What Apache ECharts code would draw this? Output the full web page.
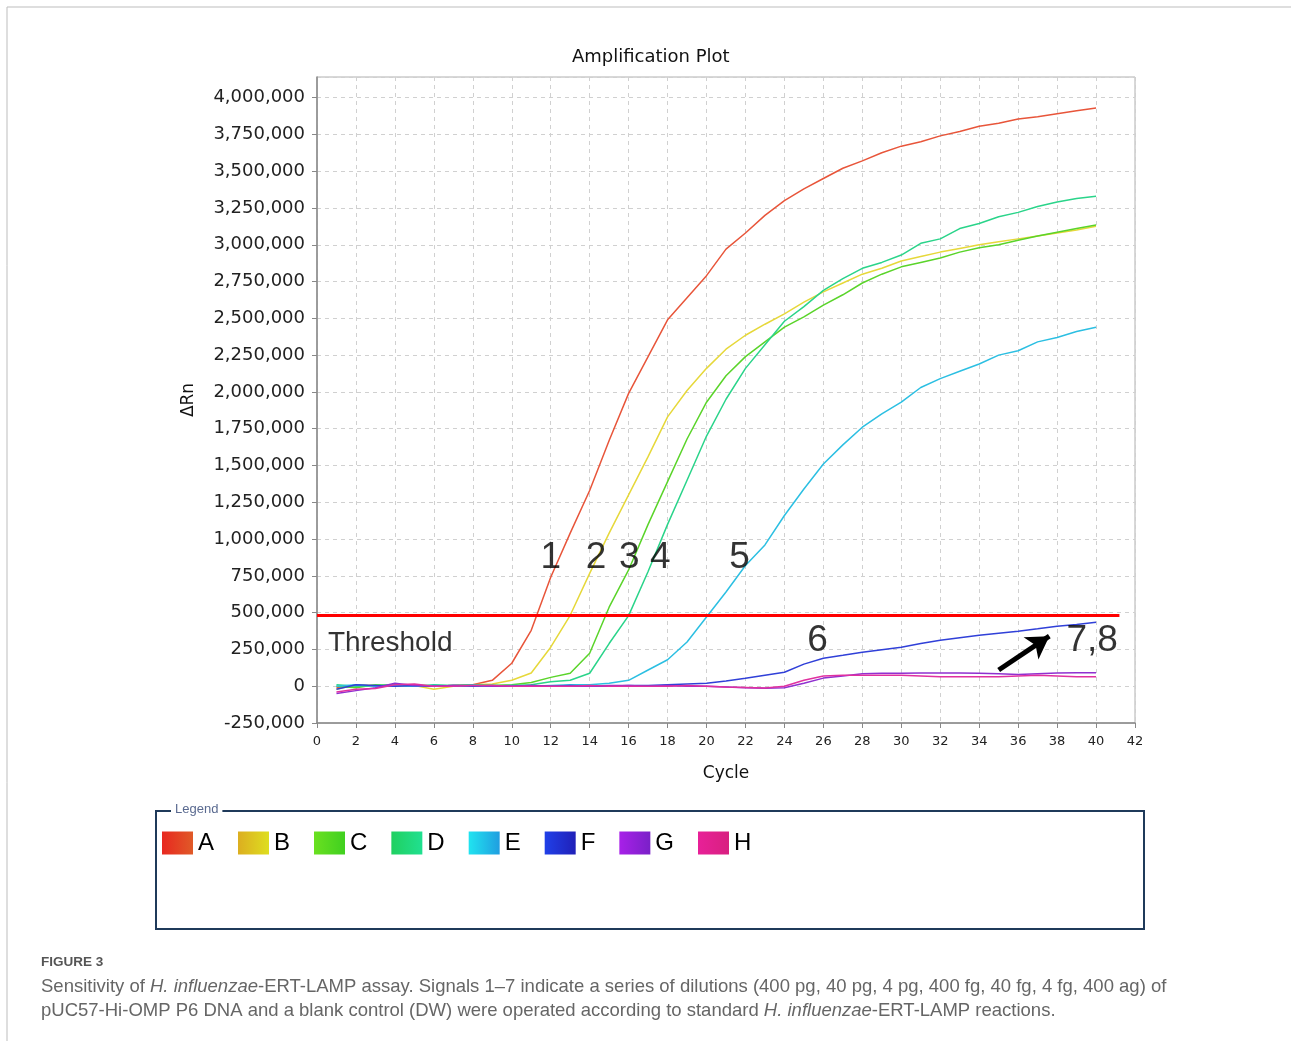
<!DOCTYPE html>
<html>
<head>
<meta charset="utf-8">
<script src="https://cdn.jsdelivr.net/npm/echarts@6/dist/echarts.min.js"></script>
<style>
html,body{margin:0;padding:0;background:#fff;}
#chart{width:1291px;height:1041px;}
</style>
</head>
<body>
<div id="chart"></div>
<script>
const cycles = [1,2,3,4,5,6,7,8,9,10,11,12,13,14,15,16,17,18,19,20,21,22,23,24,25,26,27,28,29,30,31,32,33,34,35,36,37,38,39,40];
const seriesNames = ['A','B','C','D','E','F','G','H'];
const valuesA = [-10000,5000,0,10000,5000,0,5000,10000,40000,156000,380000,740000,1040000,1330000,1670000,1990000,2240000,2490000,2640000,2790000,2970000,3080000,3200000,3300000,3380000,3450000,3520000,3570000,3625000,3670000,3700000,3740000,3770000,3805000,3825000,3855000,3870000,3890000,3910000,3930000];
const valuesB = [-20000,10000,5000,0,5000,-20000,0,10000,15000,40000,90000,265000,482000,767000,1040000,1300000,1560000,1830000,2010000,2160000,2290000,2385000,2460000,2530000,2610000,2680000,2740000,2800000,2840000,2890000,2920000,2950000,2975000,3000000,3020000,3040000,3060000,3080000,3100000,3125000];
const valuesC = [0,-10000,10000,5000,10000,0,5000,5000,5000,10000,25000,60000,88000,224000,537000,790000,1100000,1390000,1680000,1930000,2110000,2240000,2340000,2440000,2510000,2590000,2660000,2740000,2800000,2850000,2880000,2910000,2950000,2980000,3000000,3030000,3060000,3085000,3110000,3135000];
const valuesD = [10000,0,5000,10000,0,10000,5000,10000,5000,5000,10000,30000,40000,88000,290000,480000,780000,1100000,1400000,1700000,1950000,2160000,2320000,2480000,2580000,2690000,2770000,2840000,2880000,2930000,3010000,3040000,3110000,3145000,3190000,3220000,3260000,3290000,3315000,3330000];
const valuesE = [0,10000,0,5000,0,5000,0,5000,0,5000,0,5000,10000,10000,20000,40000,110000,180000,300000,470000,640000,820000,960000,1160000,1340000,1510000,1640000,1760000,1850000,1930000,2030000,2090000,2140000,2190000,2250000,2280000,2340000,2370000,2410000,2440000];
const valuesF = [-20000,10000,5000,0,5000,0,5000,0,5000,0,5000,0,5000,0,0,5000,5000,10000,15000,20000,35000,54000,75000,95000,150000,190000,210000,231000,248000,265000,290000,312000,330000,346000,360000,374000,390000,408000,420000,435000];
const valuesG = [-50000,-30000,-10000,20000,5000,0,5000,5000,0,0,5000,0,0,0,5000,5000,0,5000,0,0,-5000,-10000,-14000,-10000,20000,55000,70000,85000,88000,88000,90000,90000,90000,88000,85000,80000,85000,90000,92000,92000];
const valuesH = [-40000,-20000,-15000,10000,15000,0,0,5000,5000,0,0,0,0,5000,0,0,0,0,5000,0,-5000,-8000,-12000,0,40000,70000,75000,75000,75000,75000,70000,65000,65000,65000,65000,70000,75000,70000,65000,65000];
const xTicks = [0,2,4,6,8,10,12,14,16,18,20,22,24,26,28,30,32,34,36,38,40,42];
const yTicks = [-250000,0,250000,500000,750000,1000000,1250000,1500000,1750000,2000000,2250000,2500000,2750000,3000000,3250000,3500000,3750000,4000000];
const thresholdValue = 480000;
const thresholdEnd = 41.2;
const curveLabels = ['1','2','3','4','5','6','7,8'];
const curveLabelCycles = [12.0,14.33,16.03,17.63,21.7,25.7,39.8];
const curveLabelValues = [870000,870000,870000,870000,870000,312000,312000];
const arrowFrom = [35.0,110000];
const arrowTo = [37.6,340000];

const allValues = [valuesA,valuesB,valuesC,valuesD,valuesE,valuesF,valuesG,valuesH];
const lineColors = ['#e8553a','#e6d83a','#5ad42a','#2ad48a','#2cbfe2','#3040d8','#9030d0','#e030a0'];
const swatch = [
  ['#e82820','#e05a28'],['#dcae20','#dede20'],['#6ae020','#40d020'],['#20d060','#20e090'],
  ['#20e4f0','#209ee0'],['#2040e8','#2020b8'],['#a820e8','#7a20c8'],['#e82098','#d82080']
];

function fmt(v){ return v.toLocaleString('en-US'); }

const series = seriesNames.map((n,i)=>({
  name:n, type:'line', showSymbol:false, symbol:'none', smooth:false,
  data: cycles.map((c,k)=>[c, allValues[i][k]]),
  lineStyle:{color:lineColors[i], width:1.5},
  itemStyle:{color:lineColors[i]},
  z: 3
}));

series.push({
  name:'threshold', type:'line', symbol:'none', silent:true,
  data:[[xTicks[0],thresholdValue],[thresholdEnd,thresholdValue]],
  lineStyle:{color:'#ff0000', width:3}, z:4
});

series.push({
  name:'labels', type:'scatter', symbolSize:0, silent:true,
  data: curveLabels.map((t,i)=>({value:[curveLabelCycles[i],curveLabelValues[i]], name:t})),
  label:{show:true, position:'inside', formatter:p=>p.name, color:'#000', fontSize:37, fontFamily:'Liberation Sans, Arial, sans-serif'},
  z:6
});

series.push({
  name:'thresholdLabel', type:'scatter', symbolSize:0, silent:true,
  data:[{value:[3.76,292000], name:'Threshold'}],
  label:{show:true, position:'inside', formatter:p=>p.name, color:'#000', fontSize:28, fontFamily:'Liberation Sans, Arial, sans-serif'},
  z:6
});

series.push({
  name:'arrow', type:'line', symbol:'none', silent:true, data:[],
  markLine:{
    silent:true, symbol:['none','arrow'], symbolSize:[20,22],
    label:{show:false},
    lineStyle:{color:'#000', width:5, type:'solid'},
    data:[[{coord:arrowFrom},{coord:arrowTo}]]
  }
});

const option = {
  animation:false,
  backgroundColor:'#fff',
  title:{
    text:'Amplification Plot', left:567, top:43,
    textStyle:{fontFamily:'DejaVu Sans, sans-serif', fontSize:18, fontWeight:'normal', color:'#111'}
  },
  grid:{left:317, top:77, right:156, bottom:318, show:true, borderColor:'#b0b0b0', borderWidth:1, containLabel:false, outerBoundsMode:'none'},
  legend:{
    data: seriesNames.map((n,i)=>({name:n, itemStyle:{color:new echarts.graphic.LinearGradient(0,0,1,0,[{offset:0,color:swatch[i][0]},{offset:1,color:swatch[i][1]}])}})),
    left:162, top:831, padding:0, icon:'rect', itemWidth:31, itemHeight:23, itemGap:24,
    textStyle:{fontFamily:'Liberation Sans Narrow, Liberation Sans, Arial, sans-serif', fontSize:24, color:'#000'},
    selectedMode:false
  },
  xAxis:{
    type:'value', min:xTicks[0], max:xTicks[xTicks.length-1], interval:2,
    name:'Cycle', nameLocation:'middle', nameGap:42,
    nameTextStyle:{fontFamily:'DejaVu Sans, sans-serif', fontSize:17, color:'#111'},
    axisLine:{show:true, onZero:false, lineStyle:{color:'#888', width:1.5}},
    axisTick:{show:true, length:5, lineStyle:{color:'#888'}},
    axisLabel:{fontFamily:'DejaVu Sans, sans-serif', fontSize:13, color:'#222', margin:12},
    splitLine:{show:true, lineStyle:{color:'#d0d0d0', type:[4,4], width:1}}
  },
  yAxis:{
    type:'value', min:yTicks[0], max:4140000, interval:250000,
    name:'ΔRn', nameLocation:'middle', nameGap:120, nameRotate:90,
    nameTextStyle:{fontFamily:'DejaVu Sans, sans-serif', fontSize:17, color:'#111'},
    axisLine:{show:true, onZero:false, lineStyle:{color:'#888', width:1.5}},
    axisTick:{show:true, length:5, lineStyle:{color:'#888'}},
    axisLabel:{fontFamily:'DejaVu Sans, sans-serif', fontSize:18, color:'#222', margin:12,
      formatter:v=> (yTicks.indexOf(v)>=0 ? fmt(v) : ''), showMaxLabel:false},
    splitLine:{show:true, lineStyle:{color:'#d0d0d0', type:[4,4], width:1}}
  },
  graphic:[
    {type:'line', shape:{x1:7,y1:7,x2:1291,y2:7}, style:{stroke:'#bdbdbd', lineWidth:1}, silent:true},
    {type:'line', shape:{x1:7,y1:7,x2:7,y2:1041}, style:{stroke:'#bdbdbd', lineWidth:1}, silent:true},
    {type:'rect', shape:{x:156,y:811,width:988,height:118}, style:{fill:'none', stroke:'#1f3a5a', lineWidth:2}, silent:true},
    {type:'text', x:171, y:803, style:{text:'Legend', fill:'#5a6a90', font:'13px "Liberation Sans Narrow", "Liberation Sans", sans-serif', backgroundColor:'#fff', padding:[0,4]}, silent:true},
    {type:'text', x:41, y:955, style:{text:'FIGURE 3', fill:'#555', font:'bold 13.5px "Liberation Sans Narrow", "Liberation Sans", sans-serif'}, silent:true},
    {type:'text', x:41, y:975, style:{
      text:'{n|Sensitivity of }{i|H. influenzae}{n|-ERT-LAMP assay. Signals 1–7 indicate a series of dilutions (400 pg, 40 pg, 4 pg, 400 fg, 40 fg, 4 fg, 400 ag) of}\n{n|pUC57-Hi-OMP P6 DNA and a blank control (DW) were operated according to standard }{i|H. influenzae}{n|-ERT-LAMP reactions.}',
      rich:{
        n:{fill:'#666', fontSize:18.5, fontFamily:'Liberation Sans, Arial, sans-serif', lineHeight:24},
        i:{fill:'#666', fontSize:18.5, fontStyle:'italic', fontFamily:'Liberation Sans, Arial, sans-serif', lineHeight:24}
      }
    }, silent:true}
  ],
  series: series
};

const chart = echarts.init(document.getElementById('chart'), null, {renderer:'canvas'});
chart.setOption(option);
</script>
</body>
</html>
